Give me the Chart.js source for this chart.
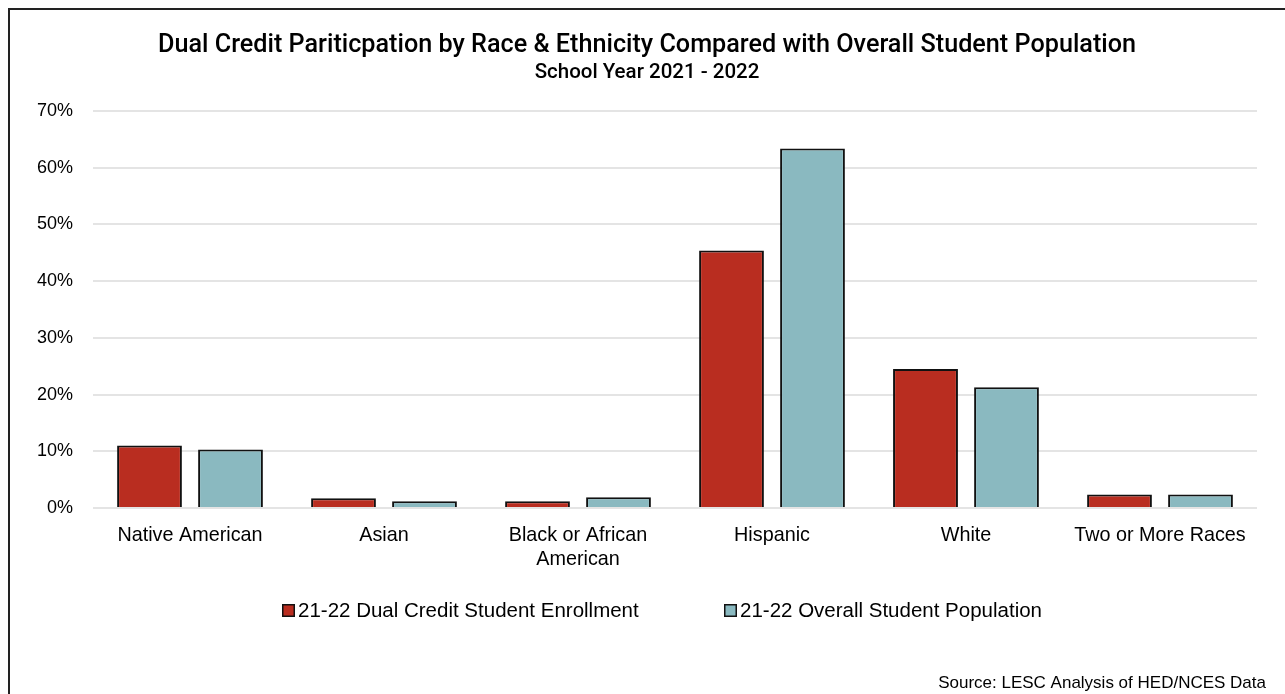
<!DOCTYPE html>
<html>
<head>
<meta charset="utf-8">
<script src="https://cdn.jsdelivr.net/npm/chart.js@4.4.1/dist/chart.umd.min.js"></script>
<style>
  html, body { margin: 0; padding: 0; background: #fff; }
  body { width: 1285px; height: 694px; overflow: hidden; position: relative; }
  #frame { position: absolute; left: 8px; top: 8px; width: 1400px; height: 800px;
           border-top: 2px solid #222; border-left: 2px solid #222; box-sizing: border-box; }
  #wrap { position: absolute; left: 0; top: 0; width: 1285px; height: 694px; }
  canvas { display: block; }
</style>
</head>
<body>
<div id="frame"></div>
<div id="wrap"><canvas id="c" width="1285" height="694"></canvas></div>
<script>
const chartTitle = "Dual Credit Pariticpation by Race & Ethnicity Compared with Overall Student Population";
const chartSubtitle = "School Year 2021 - 2022";
const sourceNote = "Source: LESC Analysis of HED/NCES Data";
const categories = ["Native American", "Asian", ["Black or African", "American"], "Hispanic", "White", "Two or More Races"];
const seriesNames = ["21-22 Dual Credit Student Enrollment", "21-22 Overall Student Population"];
const dualCredit = [11.0, 1.7, 1.2, 45.4, 24.5, 2.4];
const overallPop = [10.3, 1.2, 1.9, 63.4, 21.3, 2.4];
const yTicks = [0, 10, 20, 30, 40, 50, 60, 70];

const FONT = "'Liberation Sans', Arial, sans-serif";

const textPlugin = {
  id: 'texts',
  afterDraw(chart) {
    const ctx = chart.ctx;
    ctx.save();
    ctx.fillStyle = '#000';
    ctx.textAlign = 'center';
    ctx.textBaseline = 'middle';
    ctx.font = "500 25.2px Roboto, sans-serif";
    ctx.fillText(chartTitle, 647, 46);
    ctx.font = "500 20.5px Roboto, sans-serif";
    ctx.fillText(chartSubtitle, 647, 73);
    // legend
    const legendX = [282, 724];
    ctx.font = "20.5px " + FONT;
    ctx.textAlign = 'left';
    chart.data.datasets.forEach((d, i) => {
      const x = legendX[i];
      ctx.fillStyle = d.backgroundColor;
      ctx.fillRect(x, 604, 13, 13);
      ctx.strokeStyle = '#111';
      ctx.lineWidth = 1.5;
      ctx.strokeRect(x + 0.75, 604.75, 11.5, 11.5);
      ctx.fillStyle = '#000';
      ctx.fillText(d.label, x + 16, 611);
    });
    ctx.textAlign = 'right';
    ctx.font = "17px " + FONT;
    ctx.fillText(sourceNote, 1266, 683);
    ctx.restore();
  }
};

new Chart(document.getElementById('c'), {
  type: 'bar',
  data: {
    labels: categories,
    datasets: [
      { label: seriesNames[0], data: dualCredit, backgroundColor: '#B92D20', borderColor: '#111', borderWidth: 2 },
      { label: seriesNames[1], data: overallPop, backgroundColor: '#8AB9C0', borderColor: '#111', borderWidth: 2 }
    ]
  },
  options: {
    responsive: false,
    animation: false,
    devicePixelRatio: 1,
    layout: { padding: { left: 10, right: 28, top: 111, bottom: 104 } },
    datasets: { bar: { categoryPercentage: 0.835, barPercentage: 0.80 } },
    plugins: {
      title: { display: false },
      tooltip: { enabled: false },
      legend: { display: false }
    },
    scales: {
      x: {
        grid: { display: false, drawTicks: false },
        border: { display: false },
        ticks: { color: '#000', font: { family: FONT, size: 19.8, lineHeight: 1.2 }, padding: 16, maxRotation: 0, autoSkip: false },
        afterFit(scale) { scale.height = 82; }
      },
      y: {
        min: 0, max: 70,
        afterBuildTicks(scale) { scale.ticks = yTicks.map(v => ({ value: v })); },
        grid: { color: '#E4E4E4', lineWidth: 2, drawTicks: false },
        border: { display: false },
        ticks: { color: '#000', font: { family: FONT, size: 18 }, padding: 20, callback: v => v + '%' },
        afterFit(scale) { scale.width = 83; }
      }
    }
  },
  plugins: [textPlugin]
});
</script>
</body>
</html>
